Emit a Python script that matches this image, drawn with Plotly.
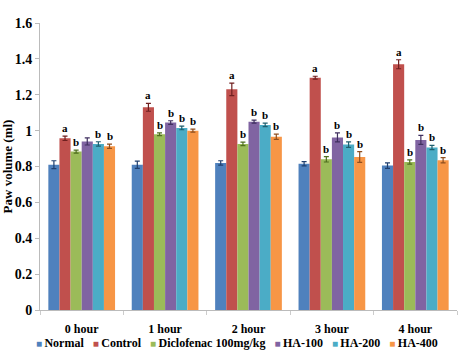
import plotly.graph_objects as go

categories = ["0 hour", "1 hour", "2 hour", "3 hour", "4 hour"]
series_names = ["Normal", "Control", "Diclofenac 100mg/kg", "HA-100", "HA-200", "HA-400"]
normal = [0.81, 0.81, 0.82, 0.815, 0.805]
control = [0.957, 1.13, 1.23, 1.295, 1.37]
diclofenac = [0.883, 0.98, 0.926, 0.84, 0.825]
ha100 = [0.94, 1.045, 1.05, 0.962, 0.948]
ha200 = [0.926, 1.015, 1.032, 0.922, 0.906]
ha400 = [0.913, 1.0, 0.966, 0.853, 0.835]
err_normal = [0.022, 0.02, 0.012, 0.012, 0.015]
err_control = [0.012, 0.022, 0.035, 0.008, 0.025]
err_diclofenac = [0.008, 0.008, 0.01, 0.015, 0.012]
err_ha100 = [0.02, 0.01, 0.008, 0.025, 0.025]
err_ha200 = [0.012, 0.01, 0.01, 0.015, 0.012]
err_ha400 = [0.012, 0.008, 0.015, 0.03, 0.015]
sig_normal = ["", "", "", "", ""]
sig_control = ["a", "a", "a", "a", "a"]
sig_diclofenac = ["b", "b", "b", "b", "b"]
sig_ha100 = ["", "b", "b", "b", "b"]
sig_ha200 = ["b", "b", "b", "b", "b"]
sig_ha400 = ["b", "b", "b", "b", "b"]

colors = ["#4F81BD", "#C0504D", "#9BBB59", "#8064A2", "#4BACC6", "#F79646"]
err_colors = ["#1F3F6F", "#6F1F1F", "#4F6F1F", "#3F2F5F", "#1F5F6F", "#8F4F1F"]

values = [normal, control, diclofenac, ha100, ha200, ha400]
errors = [err_normal, err_control, err_diclofenac, err_ha100, err_ha200, err_ha400]
sigs = [sig_normal, sig_control, sig_diclofenac, sig_ha100, sig_ha200, sig_ha400]

font_family = "Liberation Serif"
bargap = 0.2
n = len(series_names)
bw = (1 - bargap) / n

fig = go.Figure()
annotations = []
for i, name in enumerate(series_names):
    fig.add_trace(go.Bar(
        name=name, x=list(range(len(categories))), y=values[i],
        marker=dict(color=colors[i], line=dict(width=0)),
        error_y=dict(type="data", array=errors[i], color=err_colors[i], thickness=1.2, width=2.5),
        showlegend=False,
    ))
    off = -(1 - bargap) / 2 + (i + 0.5) * bw
    for j in range(len(categories)):
        if sigs[i][j]:
            annotations.append(dict(
                x=j + off, y=values[i][j] + errors[i][j], xref="x", yref="y",
                text="<b>" + sigs[i][j] + "</b>", showarrow=False,
                yanchor="bottom", yshift=0,
                font=dict(family=font_family, size=11, color="#000"),
            ))

# legend drawn as a single line of text (colored squares + names)
legend_parts = []
for name, c in zip(series_names, colors):
    legend_parts.append('<span style="color:%s;font-size:10px">■</span>\u2009%s' % (c, name))
legend_text = "<b>" + "\u2002 ".join(legend_parts) + "</b>"
annotations.append(dict(
    x=0.472, y=-0.115, xref="paper", yref="paper", xanchor="center", yanchor="middle",
    text=legend_text, showarrow=False,
    font=dict(family=font_family, size=12, color="#000"),
))

fig.update_layout(
    width=471, height=357,
    margin=dict(l=40, r=14, t=23, b=47, autoexpand=False),
    paper_bgcolor="white", plot_bgcolor="white",
    barmode="group", bargap=bargap, bargroupgap=0,
    font=dict(family=font_family, size=13, color="#000"),
    showlegend=False,
    annotations=annotations,
)
fig.update_xaxes(
    tickmode="array", tickvals=list(range(len(categories))), ticktext=categories,
    range=[-0.5, len(categories) - 0.5],
    showline=True, linecolor="#BBBBBB", linewidth=1,
    ticks="", showgrid=False, zeroline=False, automargin=False,
    ticklabelstandoff=8,
    minor=dict(tickmode="array", tickvals=[k - 0.5 for k in range(len(categories) + 1)],
               ticks="outside", ticklen=4, tickcolor="#CCCCCC", showgrid=False),
    tickfont=dict(family=font_family, size=12, color="#000", weight="bold"),
)
fig.update_yaxes(
    range=[0, 1.6], dtick=0.2, tickformat="~g",
    showline=True, linecolor="#BBBBBB", linewidth=1,
    ticks="outside", ticklen=4, tickcolor="#BBBBBB",
    showgrid=False, zeroline=False, automargin=False,
    tickfont=dict(family=font_family, size=14, color="#000", weight="bold"),
    title=dict(text="Paw volume (ml)", standoff=2,
               font=dict(family=font_family, size=13, color="#000", weight="bold")),
)
fig.write_html("out.html", config={"displayModeBar": False},
               post_script="document.body.style.margin='0';")
